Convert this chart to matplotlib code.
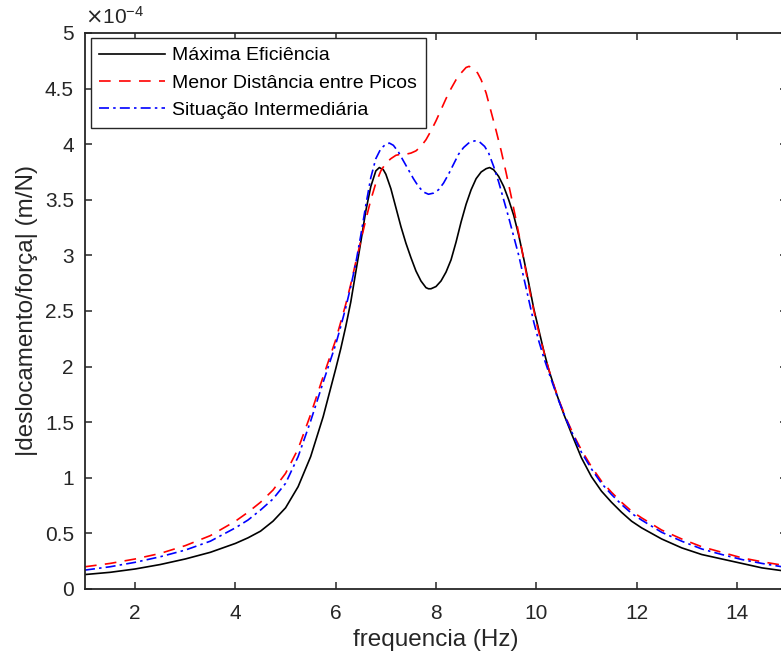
import matplotlib.pyplot as plt

plt.rcParams['font.family'] = ['Liberation Sans', 'DejaVu Sans']

# valores (deslocamento em unidades de 1e-4 m/N)
f_max = [1.0, 1.5, 2.0, 2.5, 3.0, 3.5, 4.0, 4.25, 4.5, 4.75, 5.0, 5.25, 5.5, 5.75,
         6.0, 6.1, 6.2, 6.3, 6.4, 6.5, 6.6, 6.7, 6.8, 6.87, 6.95, 7.0, 7.1, 7.2, 7.3,
         7.4, 7.5, 7.6, 7.7, 7.8, 7.85, 7.9, 8.0, 8.1, 8.2, 8.3, 8.4, 8.5, 8.6, 8.7,
         8.8, 8.9, 9.0, 9.07, 9.15, 9.25, 9.35, 9.45, 9.55, 9.65, 9.75, 9.85, 9.95,
         10.05, 10.15, 10.25, 10.4, 10.55, 10.7, 10.9, 11.1, 11.3, 11.5, 11.7, 11.9,
         12.1, 12.5, 12.9, 13.3, 13.7, 14.1, 14.5, 14.9, 15.0]
d_max = [0.13, 0.15, 0.18, 0.22, 0.27, 0.33, 0.41, 0.46, 0.52, 0.61, 0.73, 0.92, 1.19,
         1.55, 1.98, 2.16, 2.36, 2.58, 2.85, 3.12, 3.40, 3.62, 3.76, 3.79, 3.77, 3.73,
         3.60, 3.43, 3.26, 3.11, 2.98, 2.86, 2.77, 2.71, 2.70, 2.70, 2.72, 2.77, 2.85,
         2.96, 3.12, 3.30, 3.46, 3.59, 3.69, 3.75, 3.78, 3.79, 3.77, 3.71, 3.62, 3.50,
         3.36, 3.18, 2.97, 2.75, 2.52, 2.33, 2.14, 1.97, 1.76, 1.57, 1.40, 1.18, 1.01,
         0.88, 0.78, 0.69, 0.61, 0.55, 0.45, 0.37, 0.31, 0.27, 0.23, 0.19, 0.165, 0.16]

f_min = [1.0, 1.5, 2.0, 2.5, 3.0, 3.5, 4.0, 4.25, 4.5, 4.75, 5.0, 5.25, 5.5, 5.75,
         6.0, 6.1, 6.2, 6.3, 6.4, 6.5, 6.6, 6.7, 6.8, 6.9, 7.0, 7.1, 7.2, 7.3, 7.4,
         7.5, 7.6, 7.7, 7.8, 7.9, 8.0, 8.1, 8.2, 8.3, 8.4, 8.5, 8.6, 8.66, 8.75, 8.83,
         8.9, 9.0, 9.1, 9.2, 9.3, 9.4, 9.5, 9.6, 9.7, 9.8, 9.9, 10.0, 10.1, 10.2, 10.3,
         10.45, 10.6, 10.75, 10.9, 11.1, 11.3, 11.5, 11.7, 11.9, 12.1, 12.5, 12.9,
         13.3, 13.7, 14.1, 14.5, 14.9, 15.0]
d_min = [0.20, 0.23, 0.27, 0.32, 0.39, 0.48, 0.61, 0.69, 0.78, 0.89, 1.04, 1.26, 1.57,
         1.91, 2.24, 2.40, 2.56, 2.74, 2.94, 3.13, 3.32, 3.50, 3.65, 3.76, 3.83, 3.87,
         3.90, 3.91, 3.91, 3.92, 3.94, 3.98, 4.04, 4.12, 4.21, 4.31, 4.41, 4.50, 4.58,
         4.64, 4.69, 4.70, 4.68, 4.64, 4.58, 4.46, 4.29, 4.12, 3.94, 3.74, 3.53, 3.31,
         3.08, 2.84, 2.61, 2.40, 2.22, 2.05, 1.90, 1.70, 1.53, 1.38, 1.25, 1.10, 0.97,
         0.87, 0.78, 0.70, 0.64, 0.53, 0.45, 0.38, 0.33, 0.28, 0.245, 0.215, 0.21]

f_int = [1.0, 1.5, 2.0, 2.5, 3.0, 3.5, 4.0, 4.25, 4.5, 4.75, 5.0, 5.25, 5.5, 5.75,
         6.0, 6.1, 6.2, 6.3, 6.4, 6.5, 6.6, 6.7, 6.8, 6.9, 7.0, 7.07, 7.15, 7.25, 7.35,
         7.45, 7.55, 7.65, 7.75, 7.85, 7.95, 8.05, 8.15, 8.25, 8.35, 8.45, 8.55, 8.65,
         8.77, 8.87, 8.97, 9.05, 9.15, 9.25, 9.35, 9.45, 9.55, 9.65, 9.75, 9.85, 9.95,
         10.05, 10.15, 10.3, 10.45, 10.6, 10.75, 10.9, 11.1, 11.3, 11.5, 11.7, 11.9,
         12.1, 12.5, 12.9, 13.3, 13.7, 14.1, 14.5, 14.9, 15.0]
d_int = [0.17, 0.20, 0.24, 0.29, 0.35, 0.43, 0.55, 0.62, 0.71, 0.81, 0.95, 1.19, 1.51,
         1.86, 2.20, 2.36, 2.53, 2.72, 2.93, 3.18, 3.45, 3.70, 3.87, 3.96, 4.00, 4.01,
         3.99, 3.93, 3.85, 3.77, 3.69, 3.62, 3.57, 3.55, 3.56, 3.59, 3.65, 3.73, 3.82,
         3.91, 3.97, 4.01, 4.03, 4.02, 3.98, 3.92, 3.80, 3.66, 3.50, 3.34, 3.17, 3.00,
         2.80, 2.60, 2.40, 2.23, 2.08, 1.88, 1.69, 1.52, 1.37, 1.23, 1.08, 0.95, 0.85,
         0.76, 0.68, 0.62, 0.51, 0.43, 0.36, 0.31, 0.265, 0.23, 0.20, 0.195]

series = ['Máxima Eficiência', 'Menor Distância entre Picos', 'Situação Intermediária']
yticks = [0, 0.5, 1, 1.5, 2, 2.5, 3, 3.5, 4, 4.5, 5]
xticks = [2, 4, 6, 8, 10, 12, 14]

fig = plt.figure(figsize=(7.81, 6.6), dpi=100)
# o eixo passa da borda direita da figura, como no original
ax = fig.add_axes([85 / 781, 71 / 660, 702 / 781, 556 / 660])

ax.plot(f_max, d_max, color='k', lw=1.2, label=series[0])
ax.plot(f_min, d_min, color=(1, 0, 0), lw=1.2, dashes=(7, 5), label=series[1])
ax.plot(f_int, d_int, color=(0, 0, 1), lw=1.2, dashes=(6, 2.5, 1.5, 2.5), label=series[2])

ax.set_xlim(1, 15)
ax.set_ylim(0, 5)
ax.set_xticks(xticks)
ax.set_yticks(yticks)
ax.set_yticklabels(['%g' % v for v in yticks])
ax.tick_params(direction='in', length=5, width=1.1, top=True, right=True,
               labelsize=15, colors='#262626')
ax.tick_params(axis='x', pad=11)
ax.tick_params(axis='y', pad=8)
for s in ax.spines.values():
    s.set_linewidth(1.3)
    s.set_color('#262626')

ax.set_xlabel('frequencia (Hz)', fontsize=17.5, color='#262626', labelpad=4)
ax.set_ylabel('|deslocamento/força| (m/N)', fontsize=17.5, color='#262626', labelpad=5)
ax.text(0.0, 1.01, r'$\times\mathregular{10^{-4}}$', transform=ax.transAxes,
        fontsize=15, color='#262626', ha='left', va='bottom')

leg = ax.legend(loc='upper left', bbox_to_anchor=(0.008, 0.991), fontsize=14,
                frameon=True, fancybox=False, edgecolor='#262626', framealpha=1,
                handlelength=3.4, borderpad=0.45, labelspacing=0.5, handletextpad=0.35,
                borderaxespad=0)
leg.get_frame().set_linewidth(1.0)

fig.savefig('out.png', dpi=100)
